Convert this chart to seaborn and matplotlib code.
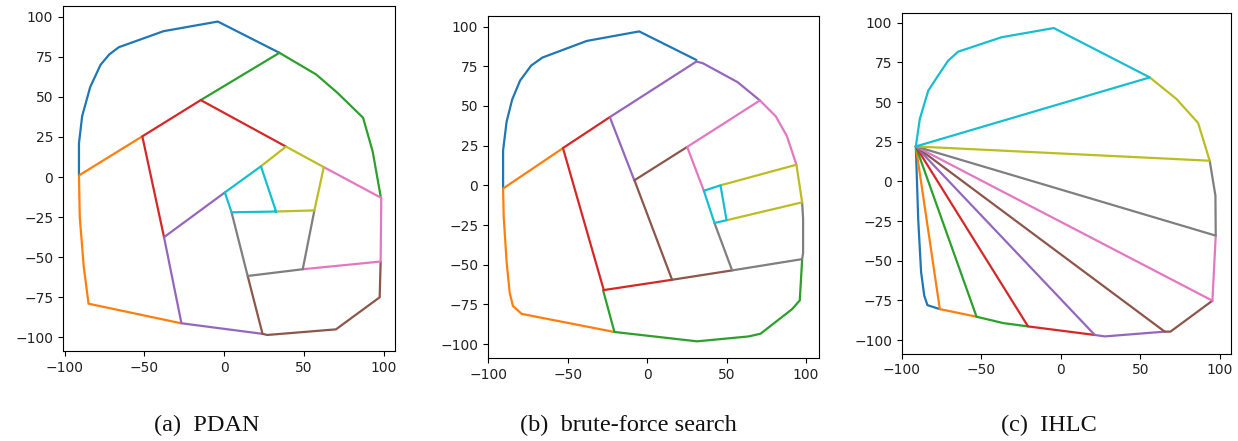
import matplotlib
matplotlib.use("Agg")
import matplotlib.pyplot as plt
import numpy as np
import pandas as pd
import seaborn as sns

# Partition of the same convex region into ten pieces by three methods.
# Each entry is one polyline (x, y vertices), drawn in the tab10 colour order.
PDAN = [
    [(-91, 1), (-91, 21), (-89, 38), (-84, 56), (-77.5, 70), (-72, 76.5), (-66, 81), (-38, 91), (-4, 97), (34.6, 77.5)],
    [(-51.3, 25.4), (-91, 1), (-90.5, -25), (-88, -56), (-85, -79), (-27, -91.2)],
    [(-14.7, 48), (34.6, 77.5), (57.6, 64), (71, 52.5), (87, 37), (93, 16), (98, -12)],
    [(38.7, 19), (-14.7, 48), (-51.3, 25.4), (-37.7, -37.5)],
    [(0.4, -9.6), (-37.7, -37.5), (-26.8, -91.2), (24, -97.8)],
    [(14.7, -61.7), (24, -97.8), (27, -98.5), (70, -95), (97.4, -75), (98, -52.7)],
    [(49.2, -57.5), (98, -52.7), (98.4, -13), (62.4, 6.2)],
    [(4.6, -22), (14.7, -61.7), (49.2, -57.5), (56.5, -20.8)],
    [(23, 6.7), (38.7, 19), (62.4, 6.2), (56.5, -20.8), (32.5, -21.5)],
    [(32.5, -21.5), (4.6, -22), (0.4, -9.6), (23, 6.7), (32.5, -21.5)],
]

BRUTE_FORCE = [
    [(-90.7, -2), (-90.7, 22), (-88.5, 40), (-85, 54), (-80, 66), (-73, 75.5), (-66, 80.5), (-38, 91), (-5, 97), (31, 79)],
    [(-52.9, 23.5), (-90.7, -2), (-90.3, -20), (-88.5, -48), (-86.5, -68), (-84.5, -76), (-79, -81), (-20.6, -92.4)],
    [(-27.7, -66.2), (-20.6, -92.4), (31.5, -98.3), (64, -95.2), (71.4, -93.5), (91.3, -78), (96.1, -72.5), (97.6, -46.8)],
    [(-23.5, 43), (-53, 23.5), (-27.3, -66), (15.7, -59.5)],
    [(-8, 3), (-23.5, 43), (31, 78), (35, 77), (57, 65), (71, 53.5)],
    [(25.2, 24.2), (-8, 3.2), (15.7, -59.5), (53.5, -53.6)],
    [(35.7, -3.4), (25.2, 24.2), (71, 53.5), (81, 43.5), (88, 31), (94, 13)],
    [(42.4, -23.7), (53.5, -53.6), (97.6, -46.5), (98.2, -42.6), (98.2, -21), (97.6, -10.7)],
    [(46.2, 0), (94, 13), (97.6, -10.7), (50, -22)],
    [(35.7, -3.4), (46.2, 0), (50, -22), (42.4, -23.7), (35.7, -3.4)],
]

APEX = (-91.3, 22)
IHLC = [
    [APEX, (-89.8, -24), (-88, -57), (-86, -72), (-84, -78), (-76.2, -80.5)],
    [APEX, (-76.2, -80.5), (-53.1, -85.3)],
    [APEX, (-53.1, -85.3), (-36.4, -89.3), (-20.7, -91.4)],
    [APEX, (-20.7, -91.4), (21.3, -96.8)],
    [APEX, (21.3, -96.8), (27.6, -97.7), (65.3, -94.7)],
    [APEX, (65.3, -94.7), (68.9, -94.7), (95.3, -75.2)],
    [APEX, (95.3, -75.2), (97.4, -34.2)],
    [APEX, (97.4, -34.2), (97.2, -9), (93.6, 13)],
    [APEX, (93.6, 13), (86.3, 36.8), (72.7, 51.9), (55.9, 65.5)],
    [APEX, (55.9, 65.5), (-4.5, 96.6), (-37.4, 90.8), (-64.7, 81.7), (-71, 76),
     (-77.3, 66.6), (-83.5, 57.1), (-88.8, 39.3), APEX],
]

CAPTIONS = ["(a)  PDAN", "(b)  brute-force search", "(c)  IHLC"]
X_TICKS = [-100, -50, 0, 50, 100]
Y_TICKS = [-100, -75, -50, -25, 0, 25, 50, 75, 100]


def to_frame(lines):
    rows = []
    for seg, pts in enumerate(lines):
        for k, (x, y) in enumerate(pts):
            rows.append({"seg": seg, "k": k, "x": x, "y": y})
    return pd.DataFrame(rows)


sns.set_style("ticks")
plt.rcParams.update({
    "axes.edgecolor": "black",
    "axes.linewidth": 0.8,
    "xtick.color": "black",
    "ytick.color": "black",
    "xtick.labelcolor": "#222222",
    "ytick.labelcolor": "#222222",
    "xtick.major.size": 3.5,
    "ytick.major.size": 3.5,
    "font.size": 10,
})
plt.rcParams["font.family"] = ["DejaVu Sans"]

fig = plt.figure(figsize=(12.38, 4.41), dpi=100)
boxes = [
    (63 / 1238, 1 - 351 / 441, 332 / 1238, 345 / 441),
    (488 / 1238, 1 - 358 / 441, 330.5 / 1238, 342.3 / 441),
    (902 / 1238, 1 - 353.7 / 441, 329 / 1238, 340.4 / 441),
]
limits = [
    ((-101, 107), (-108.5, 106.7)),
    ((-100.2, 107.9), (-108.8, 106.9)),
    ((-100, 107), (-108.6, 105.9)),
]
caption_x = [207, 628, 1049]

palette = sns.color_palette("tab10", 10)
for lines, box, (xl, yl), cap, cx in zip([PDAN, BRUTE_FORCE, IHLC], boxes, limits, CAPTIONS, caption_x):
    ax = fig.add_axes(box)
    df = to_frame(lines)
    sns.lineplot(data=df, x="x", y="y", hue="seg", palette=palette, sort=False,
                 estimator=None, legend=False, linewidth=1.6, ax=ax)
    ax.set_xlim(*xl)
    ax.set_ylim(*yl)
    ax.set_xticks(X_TICKS)
    ax.set_yticks(Y_TICKS)
    ax.set_xlabel("")
    ax.set_ylabel("")
    ax.tick_params(labelsize=10)
    for side in ["top", "right", "left", "bottom"]:
        ax.spines[side].set_visible(True)
    fig.text(cx / 1238, 1 - 425 / 441, cap, ha="center", va="center",
             fontsize=17.5, family=["Liberation Serif", "DejaVu Serif"], color="#111111")

fig.savefig("out.png", dpi=100)
